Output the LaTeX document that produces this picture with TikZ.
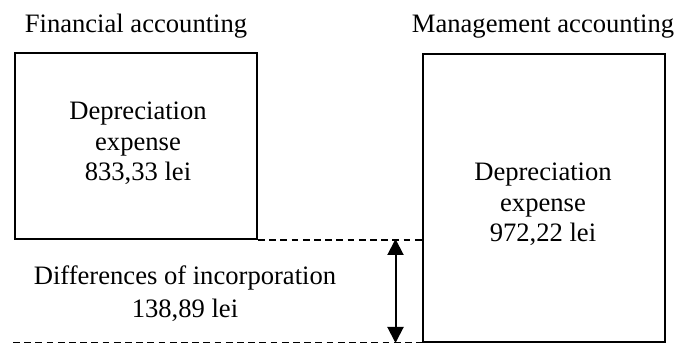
\documentclass[tikz,border=0pt]{standalone}
\usepackage{fontspec}
\setmainfont{Liberation Serif}
\usetikzlibrary{arrows.meta}
\begin{document}
\begin{tikzpicture}[x=1pt,y=-1pt,
  every node/.style={font=\fontsize{26.6}{30.5}\selectfont, inner sep=0pt},
  box/.style={draw, line width=2pt, rectangle},
  txt/.style={align=center},
  guide/.style={line width=1.6pt, dash pattern=on 6.7pt off 4.5pt},
  span/.style={line width=2pt, {Triangle[length=16pt,width=16pt]}-{Triangle[length=16pt,width=16pt]}}]
  \useasboundingbox (0,0) rectangle (678,344);
  % headings
  \node[anchor=base] (fintitle) at (136,33) {Financial accounting};
  \node[anchor=base] (mgmttitle) at (543,33) {Management accounting};
  % boxes
  \node[box, minimum width=242pt, minimum height=186pt] (fin) at (136,146) {};
  \node[box, minimum width=242pt, minimum height=288pt] (mgmt) at (544,198) {};
  % box texts (base anchor sits on the last line)
  \node[txt, anchor=base] (fintext) at (138,181) {Depreciation\\expense\\833,33 lei};
  \node[txt, anchor=base] (mgmttext) at (543,242) {Depreciation\\expense\\972,22 lei};
  % dashed guides
  \coordinate (low) at (13,342.5);
  \draw[guide] (fin.south east) -- (mgmt.west |- fin.south east);
  \draw[guide] (low) -- (mgmt.south west |- low);
  % difference arrow
  \coordinate (atop) at (395.5,239);
  \coordinate (abot) at (395.5,343);
  \draw[span] (atop) -- (abot);
  \node[txt, anchor=base, font=\fontsize{26.6}{33}\selectfont] (diff) at (185,318) {Differences of incorporation\\138,89 lei};
\end{tikzpicture}
\end{document}
